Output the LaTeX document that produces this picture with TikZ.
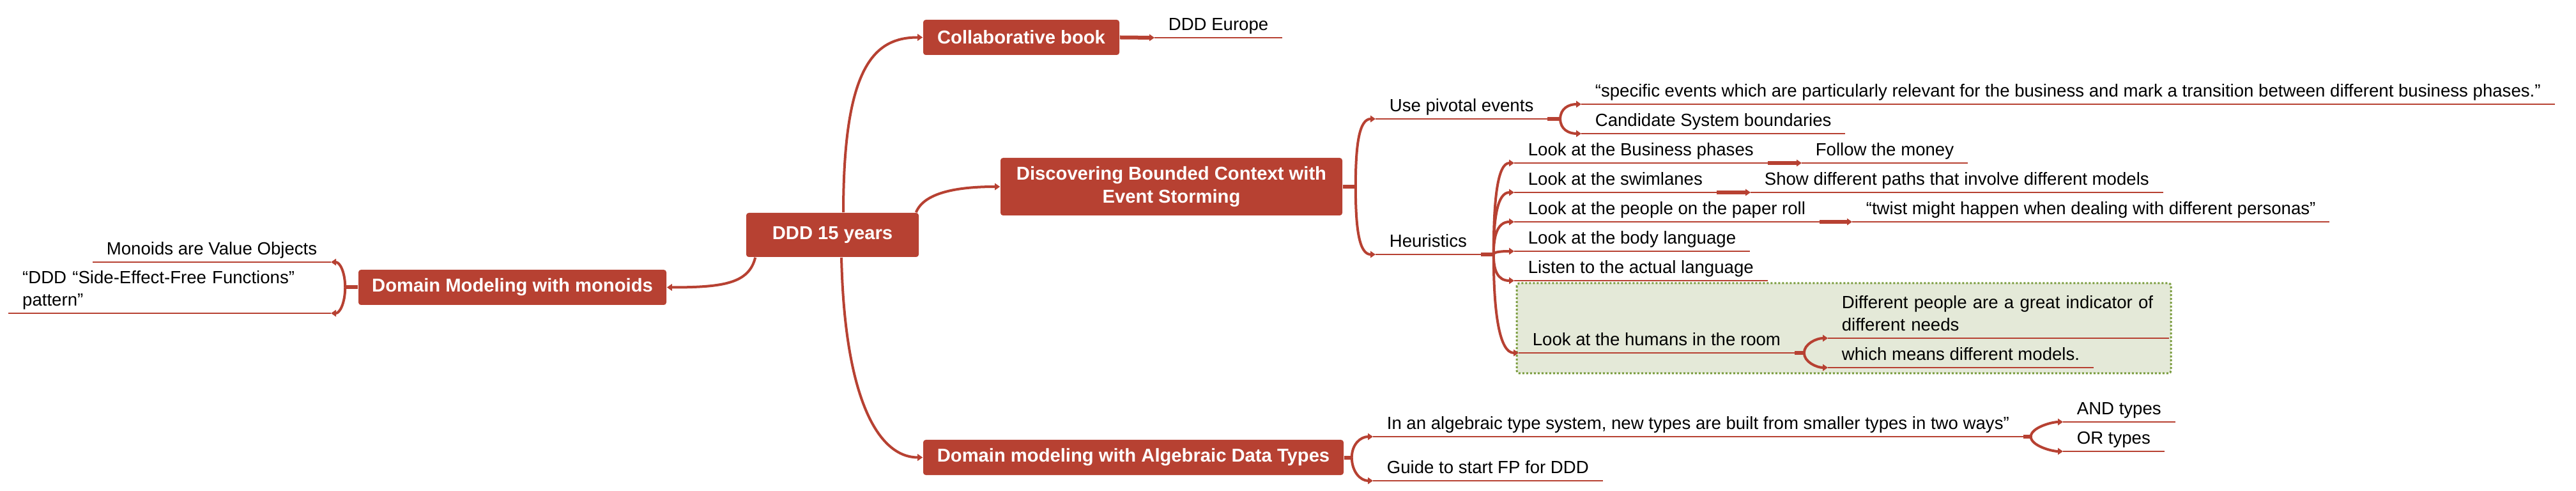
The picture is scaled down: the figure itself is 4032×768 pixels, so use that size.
\documentclass[tikz,border=0pt]{standalone}
\usepackage{fontspec}
\setmainfont{Liberation Sans}
\usetikzlibrary{arrows.meta}
\definecolor{ddred}{RGB}{183,65,50}
\definecolor{zonefill}{RGB}{228,233,216}
\definecolor{zoneline}{RGB}{122,156,62}
\newcommand\topicfont{\fontsize{7.3pt}{9pt}\selectfont\bfseries}
\newcommand\leaffont{\fontsize{6.9pt}{8.75pt}\selectfont}

\begin{document}
\begin{tikzpicture}[x=0.25pt,y=-0.25pt,
    topic/.style={fill=ddred,text=white,font=\topicfont,rounded corners=1pt,
                  minimum height=13.75pt,inner sep=0pt,align=center},
    leaf/.style={font=\leaffont,anchor=south west,inner xsep=5.25pt,inner ysep=0pt,
                 execute at end node=\strut,
                 append after command={(\tikzlastnode.south west) edge[uline] (\tikzlastnode.south east)}},
    uline/.style={draw=ddred,line width=.5pt},
    branch/.style={draw=ddred,line width=1pt,-{Triangle[length=2pt,width=2.6pt]}},
    link/.style={branch,line width=1.5pt},
    stub/.style={draw=ddred,line width=1.5pt},
    zone/.style={fill=zonefill,draw=zoneline,line width=.75pt,
                 dash pattern=on .75pt off .75pt,rounded corners=1pt}]
\useasboundingbox (0,0) rectangle (4032,768);
\draw[zone] (2374,443) rectangle (3398,584);

\node[topic,minimum width=67.5pt,minimum height=17.25pt] (root) at (1303,367.5) {DDD 15 years};
\node[topic,minimum width=76.75pt] (book) at (1598.5,58.5) {Collaborative book};
\node[topic,minimum width=133.75pt,minimum height=22.5pt] (disc) at (1833.5,292)
    {Discovering Bounded Context with\\Event Storming};
\node[topic,minimum width=120.5pt] (mono) at (802,449.5) {Domain Modeling with monoids};
\node[topic,minimum width=164.5pt] (adt) at (1774,715.5) {Domain modeling with Algebraic Data Types};

\node[leaf] (europe) at (1807,59) {DDD Europe};
\node[leaf,anchor=south east] (valobj) at (518,410) {Monoids are Value Objects};
\node[leaf,anchor=south east,text width=115.25pt,align=left] (sidefx) at (518,490)
    {“DDD “Side-Effect-Free Functions”\\pattern”};
\node[leaf] (pivot) at (2153,186) {Use pivotal events};
\node[leaf] (heur) at (2153,398) {Heuristics};
\node[leaf] (specific) at (2475,163) {“specific events which are particularly relevant for the business and mark a transition between different business phases.”};
\node[leaf] (candidate) at (2475,209) {Candidate System boundaries};
\node[leaf] (biz) at (2370,255) {Look at the Business phases};
\node[leaf] (money) at (2820,255) {Follow the money};
\node[leaf] (swim) at (2370,301) {Look at the swimlanes};
\node[leaf] (paths) at (2740,301) {Show different paths that involve different models};
\node[leaf] (roll) at (2370,347) {Look at the people on the paper roll};
\node[leaf] (twist) at (2899,347) {“twist might happen when dealing with different personas”};
\node[leaf] (body) at (2370,393) {Look at the body language};
\node[leaf] (listen) at (2370,439) {Listen to the actual language};
\node[leaf] (humans) at (2377,552) {Look at the humans in the room};
\node[leaf,text width=122.5pt,align=left] (needs) at (2861,529)
    {Different people are a great indicator of\\different needs};
\node[leaf] (models) at (2861,575) {which means different models.};
\node[leaf] (algebraic) at (2149,683) {In an algebraic type system, new types are built from smaller types in two ways”};
\node[leaf] (guide) at (2149,752) {Guide to start FP for DDD};
\node[leaf] (andtypes) at (3229,660) {AND types};
\node[leaf] (ortypes) at (3229,706) {OR types};

\draw[branch] ([xshift=4.25pt]root.north) .. controls +(0,-230) and +(-75,0) .. (book.west);
\draw[branch] ([xshift=-1.25pt]root.north east) .. controls +(12,-30) and +(-70,0) .. (disc.west);
\draw[branch] ([xshift=3.75pt]root.south west) .. controls +(-10,40) and +(90,0) .. (mono.east);
\draw[branch] ([xshift=3.5pt]root.south) .. controls +(5,220) and +(-70,0) .. (adt.west);

\draw[link] (book.east) -- (europe.south west);

\draw[stub] (mono.west) -- ++(-20,0) coordinate (monofork);
\draw[branch] (monofork) .. controls +(0,-24) and +(14,0) .. (valobj.south east);
\draw[branch] (monofork) .. controls +(0,24) and +(14,0) .. (sidefx.south east);

\draw[stub] (disc.east) -- ++(20,0) coordinate (discfork);
\draw[branch] (discfork) .. controls +(0,-64) and +(-26,0) .. (pivot.south west);
\draw[branch] (discfork) .. controls +(0,64) and +(-26,0) .. (heur.south west);

\draw[stub] (pivot.south east) -- ++(20,0) coordinate (pivotfork);
\draw[branch] (pivotfork) .. controls +(0,-16) and +(-20,0) .. (specific.south west);
\draw[branch] (pivotfork) .. controls +(0,16) and +(-20,0) .. (candidate.south west);

\draw[stub] (heur.south east) -- ++(20,0) coordinate (heurfork);
\draw[branch] (heurfork) .. controls +(0,-86) and +(-26,0) .. (biz.south west);
\draw[branch] (heurfork) .. controls +(0,-58) and +(-26,0) .. (swim.south west);
\draw[branch] (heurfork) .. controls +(0,-30) and +(-26,0) .. (roll.south west);
\draw[branch] (heurfork) .. controls +(0,-3) and +(-26,0) .. (body.south west);
\draw[branch] (heurfork) .. controls +(0,25) and +(-26,0) .. (listen.south west);
\draw[branch] (heurfork) .. controls +(0,92) and +(-30,0) .. (humans.south west);

\draw[link] (biz.south east) -- (money.south west);
\draw[link] (swim.south east) -- (paths.south west);
\draw[link] (roll.south east) -- (twist.south west);

\draw[stub] (humans.south east) -- ++(15,0) coordinate (humansfork);
\draw[branch] (humansfork) .. controls +(0,-14) and +(-18,0) .. (needs.south west);
\draw[branch] (humansfork) .. controls +(0,14) and +(-18,0) .. (models.south west);

\draw[stub] (adt.east) -- ++(12,0) coordinate (adtfork);
\draw[branch] (adtfork) .. controls +(0,-20) and +(-20,0) .. (algebraic.south west);
\draw[branch] (adtfork) .. controls +(0,22) and +(-20,0) .. (guide.south west);

\draw[stub] (algebraic.south east) -- ++(12,0) coordinate (algfork);
\draw[branch] (algfork) .. controls +(0,-14) and +(-18,0) .. (andtypes.south west);
\draw[branch] (algfork) .. controls +(0,14) and +(-18,0) .. (ortypes.south west);
\end{tikzpicture}
\end{document}
